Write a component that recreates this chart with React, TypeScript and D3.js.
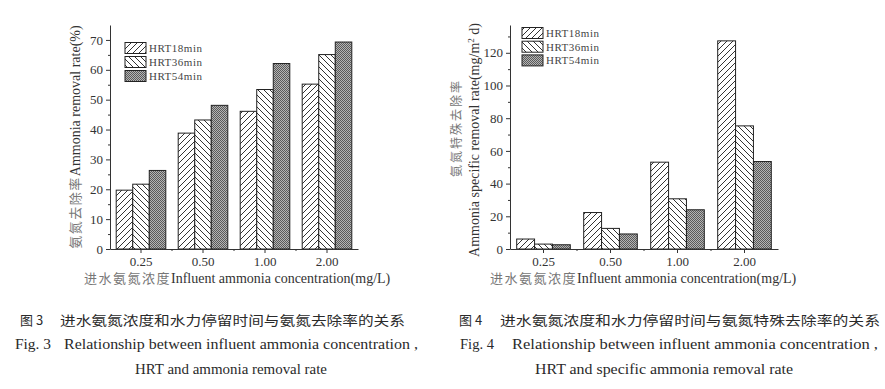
import React, { useEffect, useRef } from 'react';
import * as d3 from 'd3';

// influent ammonia concentration (mg/L)
const concentrations = ['0.25', '0.50', '1.00', '2.00'];
const seriesNames = ['HRT18min', 'HRT36min', 'HRT54min'];

// Fig. 3 ammonia removal rate (%)
const removalHrt18 = [19.7, 38.8, 46.1, 55.2];
const removalHrt36 = [21.7, 43.2, 53.4, 65.1];
const removalHrt54 = [26.3, 48.1, 62.1, 69.3];
const removalTicks = [0, 10, 20, 30, 40, 50, 60, 70];
const removalMinor = [5, 15, 25, 35, 45, 55, 65];

// Fig. 4 specific ammonia removal rate (mg/m2 d)
const specificHrt18 = [6.1, 22.3, 53.1, 127.3];
const specificHrt36 = [3.0, 12.6, 30.7, 75.3];
const specificHrt54 = [2.6, 9.2, 24.0, 53.5];
const specificTicks = [0, 20, 40, 60, 80, 100, 120];
const specificMinor = [10, 30, 50, 70, 90, 110, 130];

const FONT = "'Liberation Serif', 'Times New Roman', 'Noto Sans CJK SC', serif";
const CJK = "'Noto Sans CJK SC', sans-serif";
const patternIds = ['hatchFwd', 'hatchBack', 'stipple'];

const drawChart = (svg: any, spec: any) => {
  const x = d3.scaleBand().domain(concentrations).range([spec.x0, spec.x1]).paddingInner(0.2).paddingOuter(0.1);
  const inner = d3.scaleBand().domain(seriesNames).range([0, x.bandwidth()]);
  const y = d3.scaleLinear().domain([0, spec.yMax]).range([249, 25]);
  const g = svg.append('g');

  spec.values.forEach((vals: number[], si: number) => {
    g.append('g')
      .selectAll('rect')
      .data(vals)
      .join('rect')
      .attr('x', (d: number, i: number) => (x(concentrations[i]) || 0) + (inner(seriesNames[si]) || 0))
      .attr('y', (d: number) => y(d))
      .attr('width', inner.bandwidth())
      .attr('height', (d: number) => y(0) - y(d))
      .attr('fill', `url(#${patternIds[si]})`)
      .attr('stroke', '#222')
      .attr('stroke-width', 1);
  });

  const styleAxis = (a: any) => {
    a.attr('font-family', FONT).attr('font-size', 13);
    a.selectAll('path,line').attr('stroke', '#333');
    a.selectAll('text').attr('fill', '#333');
  };

  g.append('g').attr('transform', `translate(${spec.x0},0)`)
    .call(d3.axisLeft(y).tickValues(spec.ticks).tickSize(4).tickSizeOuter(0).tickPadding(3))
    .call(styleAxis);
  g.append('g').attr('transform', `translate(${spec.x0},0)`)
    .call(d3.axisLeft(y).tickValues(spec.minor).tickSize(2).tickFormat(() => ''))
    .call(styleAxis)
    .select('.domain').remove();

  g.append('g').attr('transform', `translate(0,${y(0)})`)
    .call(d3.axisBottom(x).tickSize(4).tickSizeOuter(0).tickPadding(4))
    .call(styleAxis);
  const bounds = concentrations.slice(0, 3).map(c => (x(c) || 0) + x.bandwidth() / 2 + x.step() / 2);
  g.append('g').selectAll('line').data(bounds).join('line')
    .attr('x1', (d: number) => d).attr('x2', (d: number) => d)
    .attr('y1', y(0)).attr('y2', y(0) + 2)
    .attr('stroke', '#333');

  // legend
  const leg = g.append('g').attr('font-family', FONT).attr('font-size', 11);
  seriesNames.forEach((s, i) => {
    const cy = spec.legendY + i * spec.legendStep;
    leg.append('rect').attr('x', spec.legendX).attr('y', cy - 5.5).attr('width', 21).attr('height', 11)
      .attr('fill', `url(#${patternIds[i]})`).attr('stroke', '#222');
    leg.append('text').attr('x', spec.legendX + 24).attr('y', cy + 4).attr('fill', '#444')
      .attr('letter-spacing', 0.5).text(s);
  });

  // x title
  const xt = g.append('text').attr('x', spec.titleX).attr('y', 283)
    .attr('font-family', FONT).attr('font-size', 14).attr('fill', '#333');
  xt.append('tspan').attr('font-family', CJK).attr('fill', '#777').attr('font-size', 13)
    .attr('letter-spacing', 1.5).text('进水氨氮浓度');
  xt.append('tspan').text('Influent ammonia concentration(mg/L)');
};

const App: React.FC = () => {
  const ref = useRef<SVGSVGElement>(null);

  useEffect(() => {
    const svg = d3.select(ref.current);
    svg.selectAll('*').remove();

    const defs = svg.append('defs');
    const fwd = defs.append('pattern').attr('id', 'hatchFwd').attr('patternUnits', 'userSpaceOnUse')
      .attr('width', 6).attr('height', 6);
    fwd.append('rect').attr('width', 6).attr('height', 6).attr('fill', '#fff');
    fwd.append('path').attr('d', 'M-1,1 l2,-2 M0,6 l6,-6 M5,7 l2,-2').attr('stroke', '#333').attr('stroke-width', 1);
    const back = defs.append('pattern').attr('id', 'hatchBack').attr('patternUnits', 'userSpaceOnUse')
      .attr('width', 6).attr('height', 6);
    back.append('rect').attr('width', 6).attr('height', 6).attr('fill', '#fff');
    back.append('path').attr('d', 'M-1,5 l2,2 M0,0 l6,6 M5,-1 l2,2').attr('stroke', '#333').attr('stroke-width', 1);
    const dots = defs.append('pattern').attr('id', 'stipple').attr('patternUnits', 'userSpaceOnUse')
      .attr('width', 2).attr('height', 2);
    dots.append('rect').attr('width', 2).attr('height', 2).attr('fill', '#b4b4b4');
    dots.append('rect').attr('width', 1).attr('height', 1).attr('fill', '#5a5a5a');
    dots.append('rect').attr('x', 1).attr('y', 1).attr('width', 1).attr('height', 1).attr('fill', '#5a5a5a');

    drawChart(svg, {
      values: [removalHrt18, removalHrt36, removalHrt54],
      yMax: 75, ticks: removalTicks, minor: removalMinor,
      x0: 110, x1: 358, legendX: 125, legendY: 48, legendStep: 14, titleX: 84,
    });
    drawChart(svg, {
      values: [specificHrt18, specificHrt36, specificHrt54],
      yMax: 137, ticks: specificTicks, minor: specificMinor,
      x0: 510, x1: 778, legendX: 522, legendY: 33, legendStep: 13.7, titleX: 490,
    });

    // y titles
    const yl = svg.append('text').attr('transform', 'translate(80,137) rotate(-90)')
      .attr('text-anchor', 'middle').attr('font-family', FONT).attr('font-size', 14).attr('fill', '#333');
    yl.append('tspan').attr('font-family', CJK).attr('fill', '#777').attr('font-size', 13)
      .attr('letter-spacing', 1.5).text('氨氮去除率');
    yl.append('tspan').text('Ammonia removal rate(%)');

    svg.append('text').attr('transform', 'translate(461,128) rotate(-90)')
      .attr('text-anchor', 'middle').attr('font-family', CJK).attr('font-size', 12).attr('fill', '#777')
      .attr('letter-spacing', 2).text('氨氮特殊去除率');
    const yr = svg.append('text').attr('transform', 'translate(479,140) rotate(-90)')
      .attr('text-anchor', 'middle').attr('font-family', FONT).attr('font-size', 14).attr('fill', '#333');
    yr.append('tspan').text('Ammonia specific removal rate(mg/m');
    yr.append('tspan').attr('font-size', 9).attr('dy', -5).text('2');
    yr.append('tspan').attr('dy', 5).text(' d)');

    // captions
    const cap = svg.append('g').attr('fill', '#2a2a2a');
    const captions = [
      { x: 20, y: 325, t: '图 3', f: CJK, s: 13 },
      { x: 60, y: 325, t: '进水氨氮浓度和水力停留时间与氨氮去除率的关系', f: CJK, s: 13, w: 345 },
      { x: 15, y: 349, t: 'Fig. 3', f: FONT, s: 15, w: 36 },
      { x: 64, y: 349, t: 'Relationship between influent ammonia concentration ,', f: FONT, s: 15, w: 354 },
      { x: 135, y: 374, t: 'HRT and ammonia removal rate', f: FONT, s: 15, w: 192 },
      { x: 459, y: 325, t: '图 4', f: CJK, s: 13 },
      { x: 500, y: 325, t: '进水氨氮浓度和水力停留时间与氨氮特殊去除率的关系', f: CJK, s: 13, w: 380 },
      { x: 460, y: 349, t: 'Fig. 4', f: FONT, s: 15, w: 34 },
      { x: 512, y: 349, t: 'Relationship between influent ammonia concentration ,', f: FONT, s: 15, w: 366 },
      { x: 535, y: 374, t: 'HRT and specific ammonia removal rate', f: FONT, s: 15, w: 258 },
    ];
    captions.forEach(c => {
      const t = cap.append('text').attr('x', c.x).attr('y', c.y).attr('font-family', c.f)
        .attr('font-size', c.s).text(c.t);
      if (c.w) t.attr('textLength', c.w).attr('lengthAdjust', 'spacingAndGlyphs');
    });
  }, []);

  return (
    <svg ref={ref} width={885} height={389} style={{ position: 'absolute', left: 0, top: 0, background: '#fff' }} />
  );
};

export default App;
